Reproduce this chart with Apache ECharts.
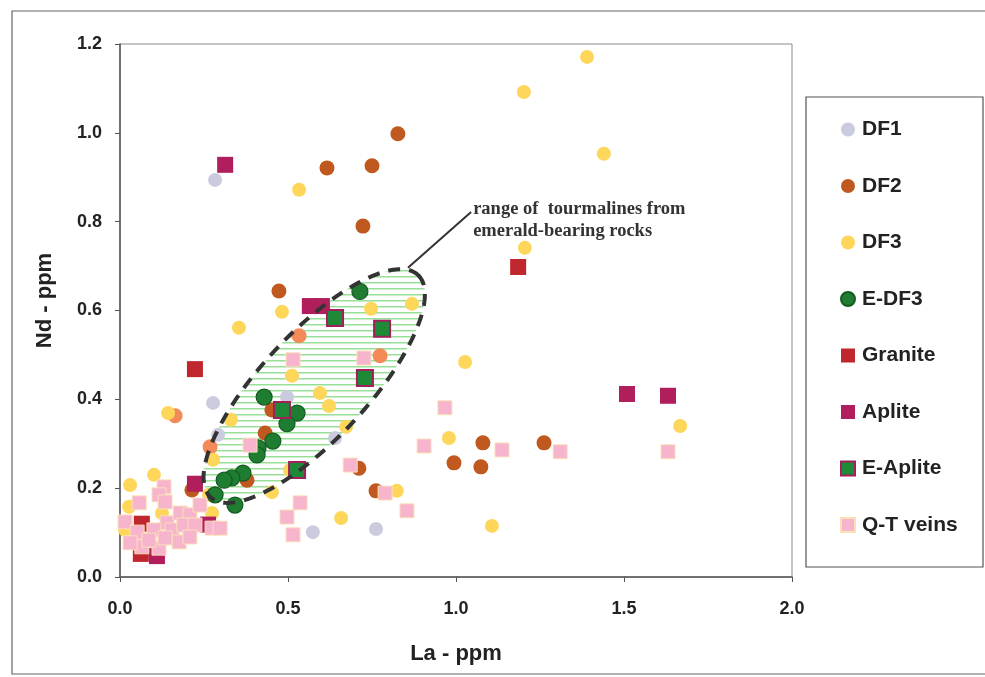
<!DOCTYPE html>
<html><head><meta charset="utf-8">
<script src="https://cdn.jsdelivr.net/npm/echarts@6/dist/echarts.min.js"></script>
<style>html,body{margin:0;padding:0;background:#fff}#c{width:985px;height:677px}</style>
</head><body><div id="c"></div><script>
// ---- data ----
const xTickLabels = ['0.0','0.5','1.0','1.5','2.0'];
const yTickLabels = ['0.0','0.2','0.4','0.6','0.8','1.0','1.2'];
const seriesNames = ['DF1','DF2','DF3','E-DF3','Granite','Aplite','E-Aplite','Q-T veins'];
const DF1 = [[0.283,0.894],[0.277,0.392],[0.497,0.405],[0.292,0.320],[0.574,0.101],[0.762,0.108],[0.640,0.313]];
const DF2 = [[0.827,0.998],[0.616,0.921],[0.750,0.926],[0.723,0.790],[0.473,0.644],[1.262,0.302],[1.080,0.302],[0.994,0.257],[1.074,0.248],[0.711,0.245],[0.762,0.194],[0.432,0.324],[0.452,0.376],[0.378,0.218],[0.214,0.196]];
const DF2light = [[0.164,0.363],[0.268,0.293],[0.533,0.543],[0.774,0.498]];
const DF3 = [[1.390,1.171],[1.202,1.092],[1.440,0.953],[0.533,0.872],[1.205,0.741],[1.027,0.484],[0.979,0.313],[1.667,0.340],[1.107,0.115],[0.824,0.194],[0.658,0.133],[0.354,0.561],[0.482,0.597],[0.143,0.369],[0.747,0.604],[0.869,0.615],[0.512,0.453],[0.595,0.414],[0.622,0.385],[0.673,0.338],[0.330,0.354],[0.277,0.264],[0.452,0.191],[0.506,0.241],[0.101,0.230],[0.030,0.207],[0.027,0.158],[0.015,0.106],[0.125,0.144],[0.274,0.144],[0.265,0.185]];
const EDF3 = [[0.714,0.643],[0.429,0.405],[0.527,0.369],[0.497,0.345],[0.455,0.306],[0.411,0.291],[0.408,0.275],[0.366,0.234],[0.333,0.223],[0.310,0.218],[0.283,0.185],[0.342,0.162]];
const Granite = [[1.185,0.698],[0.223,0.468],[0.065,0.120],[0.062,0.052]];
const Aplite = [[0.313,0.928],[1.509,0.412],[1.631,0.408],[0.565,0.610],[0.601,0.610],[0.223,0.210],[0.110,0.047],[0.262,0.118]];
const EAplite = [[0.640,0.583],[0.780,0.559],[0.729,0.448],[0.482,0.376],[0.527,0.241]];
const QTveins = [[0.967,0.381],[0.905,0.295],[1.137,0.286],[1.310,0.282],[1.631,0.282],[0.854,0.149],[0.789,0.189],[0.685,0.252],[0.536,0.167],[0.497,0.135],[0.515,0.095],[0.515,0.489],[0.726,0.493],[0.387,0.297],
  [0.131,0.203],[0.116,0.185],[0.134,0.169],[0.057,0.167],[0.015,0.124],[0.051,0.101],[0.065,0.068],[0.116,0.065],[0.140,0.122],[0.101,0.106],[0.155,0.106],[0.179,0.144],[0.208,0.140],[0.238,0.162],[0.190,0.117],[0.223,0.117],[0.176,0.079],[0.134,0.088],[0.208,0.090],[0.274,0.110],[0.298,0.110],[0.086,0.083],[0.030,0.077]];
const annotationText = 'range of  tourmalines from\nemerald-bearing rocks';
const ellipseCenter = [0.578, 0.430];
const leaderLine = [[1.045,0.822],[0.857,0.696]];
const annotationPos = [1.051, 0.852];

// ---- chart ----
const chart = echarts.init(document.getElementById('c'), null, {renderer:'canvas'});
const FONT = 'Liberation Sans, Arial, sans-serif';
function sc(name, data, symbol, size, color, border, bw, z){
  return {type:'scatter', name, data, symbol, symbolSize:size, z:z||2,
    itemStyle:{color, borderColor:border||color, borderWidth:bw||0, opacity:1},
    emphasis:{disabled:true}, animation:false};
}
const option = {
  animation:false,
  backgroundColor:'#ffffff',
  grid:{left:120, top:44, right:193, bottom:100, show:true, borderColor:'#8a8a8a', borderWidth:1, containLabel:false},
  xAxis:{type:'value', min:0, max:2, interval:0.5,
    name:'La - ppm', nameLocation:'middle', nameGap:66,
    nameTextStyle:{fontFamily:FONT, fontWeight:'bold', fontSize:22, color:'#222'},
    axisLine:{show:true, lineStyle:{color:'#555', width:1.5}},
    axisTick:{show:true, inside:false, length:5, lineStyle:{color:'#555'}},
    axisLabel:{margin:23, fontFamily:FONT, fontWeight:'bold', fontSize:18, color:'#222',
      formatter:(v)=>xTickLabels[Math.round(v/0.5)]},
    splitLine:{show:false}},
  yAxis:{type:'value', min:0, max:1.2, interval:0.2,
    name:'Nd - ppm', nameLocation:'middle', nameGap:64, nameRotate:90,
    nameTextStyle:{fontFamily:FONT, fontWeight:'bold', fontSize:22, color:'#222', padding:[0,0,0,20]},
    axisLine:{show:true, lineStyle:{color:'#555', width:1.5}},
    axisTick:{show:true, inside:false, length:5, lineStyle:{color:'#555'}},
    axisLabel:{margin:18, fontFamily:FONT, fontWeight:'bold', fontSize:18, color:'#222',
      formatter:(v)=>yTickLabels[Math.round(v/0.2)]},
    splitLine:{show:false}},
  legend:{orient:'vertical', left:835, top:114, itemWidth:14, itemHeight:14, itemGap:35.5,
    textStyle:{fontFamily:FONT, fontWeight:'bold', fontSize:21, color:'#222', padding:[0,0,0,2]},
    data:[{name:'DF1',icon:'circle'},{name:'DF2',icon:'circle'},{name:'DF3',icon:'circle'},{name:'E-DF3',icon:'circle'},
          {name:'Granite',icon:'rect'},{name:'Aplite',icon:'rect'},{name:'E-Aplite',icon:'rect'},{name:'Q-T veins',icon:'rect'}],
    selectedMode:false},
  series:[
    sc('DF1', DF1, 'circle', 14, '#cbcbdf'),
    sc('DF2', DF2, 'circle', 15, '#c0591f'),
    sc('DF2', DF2light, 'circle', 15, '#f38b59'),
    sc('DF3', DF3, 'circle', 14, '#fdd65a'),
    sc('E-DF3', EDF3, 'circle', 16, '#1f7d31', '#165a22', 1.2),
    sc('Granite', Granite, 'rect', 16, '#c0262d'),
    sc('Aplite', Aplite, 'rect', 16, '#b01e5b'),
    sc('E-Aplite', EAplite, 'rect', 16, '#1e8a38', '#a21f5c', 2),
    sc('Q-T veins', QTveins, 'rect', 14, '#f6b4cd', '#fbe0b8', 1)
  ]
};
chart.setOption(option);

// ---- annotation ellipse (drawn in pixel space from a data-space centre) ----
const c = chart.convertToPixel({gridIndex:0}, ellipseCenter);
const a = 152, b = 53, th = 47*Math.PI/180;
const u = [Math.cos(th), -Math.sin(th)], v = [Math.sin(th), Math.cos(th)];
const pts = [];
for (let i=0;i<180;i++){ const t=i/180*2*Math.PI;
  pts.push([c[0]+a*Math.cos(t)*u[0]+b*Math.sin(t)*v[0], c[1]+a*Math.cos(t)*u[1]+b*Math.sin(t)*v[1]]); }
const pc = document.createElement('canvas'); pc.width=8; pc.height=6;
const pctx = pc.getContext('2d'); pctx.fillStyle='#98df98'; pctx.fillRect(0,0,8,1.5);
const l0 = chart.convertToPixel({gridIndex:0}, leaderLine[0]);
const l1 = chart.convertToPixel({gridIndex:0}, leaderLine[1]);
const tp = chart.convertToPixel({gridIndex:0}, annotationPos);
chart.setOption({graphic:[
  {type:'rect', shape:{x:12,y:11,width:990,height:663}, style:{fill:'none', stroke:'#666', lineWidth:1.2}, z:0, silent:true},
  {type:'rect', shape:{x:806,y:97,width:177,height:470}, style:{fill:'none', stroke:'#555', lineWidth:1.2}, z:0, silent:true},
  {type:'polygon', shape:{points:pts}, style:{fill:{image:pc, repeat:'repeat'}, stroke:'none'}, z:1, silent:true},
  {type:'polygon', shape:{points:pts}, style:{fill:'none', stroke:'#333', lineWidth:4, lineDash:[12,9]}, z:50, silent:true},
  {type:'line', shape:{x1:l0[0],y1:l0[1],x2:l1[0],y2:l1[1]}, style:{stroke:'#333', lineWidth:2}, z:50, silent:true},
  {type:'text', x:tp[0], y:tp[1], style:{text:annotationText, fontFamily:'Liberation Serif, Times New Roman, serif', fontWeight:'bold', fontSize:18.5, lineHeight:22, fill:'#333'}, z:50, silent:true}
]});
</script></body></html>
